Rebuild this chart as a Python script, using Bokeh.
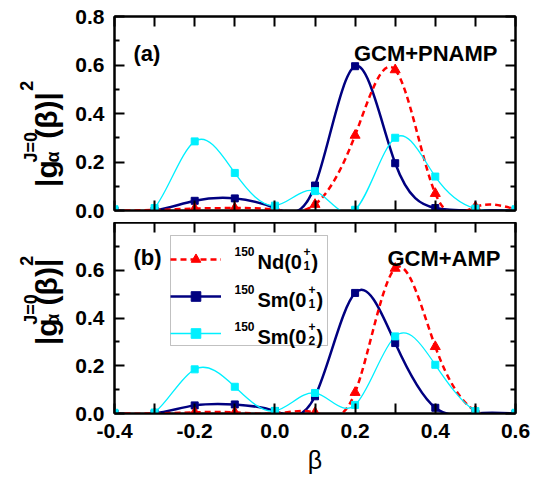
import numpy as np
from bokeh.plotting import figure
from bokeh.layouts import column, row
from bokeh.models import (Range1d, LinearAxis, FixedTicker, PrintfTickFormatter, BoxAnnotation,
                          CustomJSTickFormatter, Label, Legend, LegendItem, ColumnDataSource)
from bokeh.embed import file_html
from bokeh.resources import INLINE

# ---------------- data ----------------
beta = [-0.4, -0.3, -0.2, -0.1, 0.0, 0.1, 0.2, 0.3, 0.4, 0.5, 0.6]
# panel (a) GCM+PNAMP
a_nd = [0.0, 0.002, 0.008, 0.01, 0.003, 0.025, 0.31, 0.58, 0.07, 0.015, 0.005]
a_sm1 = [0.0, 0.0, 0.04, 0.05, 0.01, 0.103, 0.595, 0.195, 0.01, 0.0, 0.0]
a_sm2 = [0.005, 0.01, 0.285, 0.155, 0.02, 0.08, 0.003, 0.30, 0.14, 0.008, 0.005]
# panel (b) GCM+AMP
b_nd = [0.0, 0.0, 0.005, 0.005, 0.0, 0.004, 0.088, 0.608, 0.28, 0.01, 0.0]
b_sm1 = [0.0, 0.0, 0.034, 0.038, 0.01, 0.072, 0.505, 0.295, 0.024, 0.0, 0.0]
b_sm2 = [0.003, 0.004, 0.185, 0.112, 0.011, 0.086, 0.036, 0.323, 0.204, 0.01, 0.003]

x_ticks = [-0.4, -0.2, 0.0, 0.2, 0.4, 0.6]
x_minor = [-0.3, -0.1, 0.1, 0.3, 0.5]
y_ticks_a = [0.0, 0.2, 0.4, 0.6, 0.8]
y_ticks_b = [0.0, 0.2, 0.4, 0.6]
y_minor = [0.1, 0.3, 0.5, 0.7]

panel_tags = ["(a)", "(b)"]
methods = ["GCM+PNAMP", "GCM+AMP"]
nuclei = [("150", "Nd(0", "+", "1", ")"),
          ("150", "Sm(0", "+", "1", ")"),
          ("150", "Sm(0", "+", "2", ")")]
ylabel_parts = [("|g", 30, 46, 195), ("J=0", 18, 30, 167), ("α", 18, 52, 167),
                ("(β)|", 30, 46, 140), ("2", 18, 26, 85)]

RED, NAVY, CYAN = "#ff0000", "#000080", "#00f0ff"
FONT = "Liberation Sans"

# ---------------- geometry helpers (window pixels -> data) ----------------
FL, FW = 114, 401
FRAMES = {0: (16, 194), 1: (222, 191)}   # frame (top, height) in window px
FIGTOP = {0: 0, 1: 222}
FIGH = {0: 222, 1: 265}
LABW = 66


def px2x(xp):
    return -0.4 + (xp - FL) / FW * 1.0


def px2y(yp, panel):
    top, h = FRAMES[panel]
    return (top + h - yp) / h * 0.8


def spline_bezier(x, y):
    x = np.asarray(x, float)
    y = np.asarray(y, float)
    n = len(x)
    h = np.diff(x)
    A = np.zeros((n, n))
    r = np.zeros(n)
    A[0, 0] = A[-1, -1] = 1.0
    for i in range(1, n - 1):
        A[i, i - 1] = h[i - 1]
        A[i, i] = 2 * (h[i - 1] + h[i])
        A[i, i + 1] = h[i]
        r[i] = 6 * ((y[i + 1] - y[i]) / h[i] - (y[i] - y[i - 1]) / h[i - 1])
    M = np.linalg.solve(A, r)
    s = (y[1:] - y[:-1]) / h
    d0 = s - h * (2 * M[:-1] + M[1:]) / 6
    d1 = s + h * (M[:-1] + 2 * M[1:]) / 6
    return dict(x0=x[:-1], y0=y[:-1], x1=x[1:], y1=y[1:],
                cx0=x[:-1] + h / 3, cy0=y[:-1] + h * d0 / 3,
                cx1=x[1:] - h / 3, cy1=y[1:] - h * d1 / 3)


def style_axis(ax, ticks, minor, show_labels, size, minor_len):
    ax.ticker = FixedTicker(ticks=ticks, minor_ticks=minor)
    if show_labels:
        ax.formatter = PrintfTickFormatter(format="%.1f")
        ax.major_label_text_font = FONT
        ax.major_label_text_font_style = "bold"
        ax.major_label_text_font_size = size
        ax.major_label_text_color = "black"
    else:
        ax.formatter = CustomJSTickFormatter(code="return ''")
        ax.major_label_text_font_size = "0px"
        ax.major_label_standoff = 0
    ax.axis_line_width = 2
    ax.axis_line_color = "black"
    ax.major_tick_in = 10
    ax.major_tick_out = 0
    ax.minor_tick_in = minor_len
    ax.minor_tick_out = 0
    ax.major_tick_line_width = 2
    ax.minor_tick_line_width = 2
    ax.major_tick_line_color = "black"
    ax.minor_tick_line_color = "black"


def mk_label(x, y, text, size, angle=0.0, align="left", style="bold"):
    return Label(x=x, y=y, text=text, text_font=FONT, text_font_size=f"{size}px",
                 text_font_style=style, text_color="black", angle=angle,
                 text_align=align, text_baseline="alphabetic")


def add_text(p, panel, xp, yp, text, size, align="left"):
    p.add_layout(mk_label(px2x(xp), px2y(yp, panel), text, size, align=align))


def make_label_fig(panel):
    h = FIGH[panel]
    lab = figure(width=LABW, height=h, x_range=Range1d(0, LABW), y_range=Range1d(h, 0),
                 min_border=0, output_backend="svg", toolbar_location=None)
    lab.axis.visible = False
    lab.xgrid.visible = False
    lab.ygrid.visible = False
    lab.outline_line_color = None
    lab.background_fill_color = "white"
    lab.border_fill_color = "white"
    dy = 0 if panel == 0 else 197
    for text, size, xp, yp in ylabel_parts:
        lab.add_layout(mk_label(xp, yp + dy - FIGTOP[panel], text, size, angle=np.pi / 2))
    return lab


def make_panel(panel, nd, sm1, sm2):
    if panel == 0:
        p = figure(width=538 - LABW, height=FIGH[0], min_border_top=16, min_border_bottom=12,
                   min_border_left=FL - LABW, min_border_right=23,
                   x_range=Range1d(-0.4, 0.6), y_range=Range1d(0, 0.8),
                   output_backend="svg", toolbar_location=None)
    else:
        p = figure(width=538 - LABW, height=FIGH[1], min_border_top=0, min_border_bottom=74,
                   min_border_left=FL - LABW, min_border_right=23,
                   x_range=Range1d(-0.4, 0.6), y_range=Range1d(0, 0.8),
                   output_backend="svg", toolbar_location=None)
    p.xgrid.visible = False
    p.ygrid.visible = False
    p.outline_line_color = "black"
    p.outline_line_width = 2
    p.background_fill_color = "white"
    p.border_fill_color = "white"

    yt = y_ticks_a if panel == 0 else y_ticks_b
    style_axis(p.yaxis[0], yt, y_minor, True, "21px", 5)
    p.yaxis[0].major_label_standoff = 10
    style_axis(p.xaxis[0], x_ticks, x_minor, panel == 1, "21px", 10)
    if panel == 1:
        p.xaxis[0].major_label_standoff = 10
        p.xaxis[0].axis_label = "β"
        p.xaxis[0].axis_label_text_font = FONT
        p.xaxis[0].axis_label_text_font_style = "normal"
        p.xaxis[0].axis_label_text_font_size = "25px"
        p.xaxis[0].axis_label_standoff = 5
        p.xaxis[0].axis_label_text_color = "black"
    top_ax = LinearAxis()
    style_axis(top_ax, x_ticks, x_minor, False, "0px", 10)
    p.add_layout(top_ax, "above")
    right_ax = LinearAxis()
    style_axis(right_ax, yt, y_minor, False, "0px", 5)
    p.add_layout(right_ax, "right")

    if panel == 1:
        # legend frame (drawn beneath the curves; no curve passes through it)
        p.add_layout(BoxAnnotation(left=px2x(170), right=px2x(327),
                                   top=px2y(235, 1), bottom=px2y(345, 1),
                                   fill_color="white", fill_alpha=1.0,
                                   line_color="#333333", line_width=1, level="underlay"))

    # curves (cubic spline through the points) and markers
    r_sm1 = p.bezier(source=ColumnDataSource(spline_bezier(beta, sm1)), x0="x0", y0="y0",
                     x1="x1", y1="y1", cx0="cx0", cy0="cy0", cx1="cx1", cy1="cy1",
                     line_color=NAVY, line_width=2.5)
    r_nd = p.bezier(source=ColumnDataSource(spline_bezier(beta, nd)), x0="x0", y0="y0",
                    x1="x1", y1="y1", cx0="cx0", cy0="cy0", cx1="cx1", cy1="cy1",
                    line_color=RED, line_width=2.5, line_dash="6 4")
    r_sm2 = p.bezier(source=ColumnDataSource(spline_bezier(beta, sm2)), x0="x0", y0="y0",
                     x1="x1", y1="y1", cx0="cx0", cy0="cy0", cx1="cx1", cy1="cy1",
                     line_color=CYAN, line_width=1.3)
    s_sm1 = p.scatter(beta, sm1, marker="square", size=7, color=NAVY)
    s_nd = p.scatter(beta, nd, marker="triangle", size=10, color=RED)
    s_sm2 = p.scatter(beta, sm2, marker="square", size=7, color=CYAN)

    # panel texts
    if panel == 0:
        add_text(p, 0, 133, 53, panel_tags[0], 22)
        add_text(p, 0, 497, 53, methods[0], 22, align="right")
    else:
        add_text(p, 1, 133, 257, panel_tags[1], 22)
        add_text(p, 1, 500, 258, methods[1], 22, align="right")

    if panel == 1:
        legend = Legend(items=[LegendItem(label=" ", renderers=[r_nd, s_nd]),
                               LegendItem(label=" ", renderers=[r_sm1, s_sm1]),
                               LegendItem(label=" ", renderers=[r_sm2, s_sm2])],
                        location=(56, 68), glyph_width=51, glyph_height=24,
                        label_width=90, label_height=24, label_standoff=4,
                        spacing=13, padding=6, margin=0,
                        label_text_font_size="8px",
                        border_line_color=None, background_fill_alpha=0.0)
        p.add_layout(legend, "center")
        centers = [253, 291, 328]
        sup_x = [303, 308, 308]
        close_x = [311, 316, 316]
        for (iso, main, sup, sub, close), c, sx, cx in zip(nuclei, centers, sup_x, close_x):
            add_text(p, 1, 234, c - 2, iso, 12)
            add_text(p, 1, 257, c + 8, main, 20)
            add_text(p, 1, sx, c - 2, sup, 12)
            add_text(p, 1, sx, c + 12, sub, 12)
            add_text(p, 1, cx, c + 8, close, 20)
    return p


p1 = make_panel(0, a_nd, a_sm1, a_sm2)
p2 = make_panel(1, b_nd, b_sm1, b_sm2)
l1 = make_label_fig(0)
l2 = make_label_fig(1)
layout = column(row(l1, p1, spacing=0), row(l2, p2, spacing=0), spacing=0)

open("out.html", "w").write(file_html(layout, INLINE))
